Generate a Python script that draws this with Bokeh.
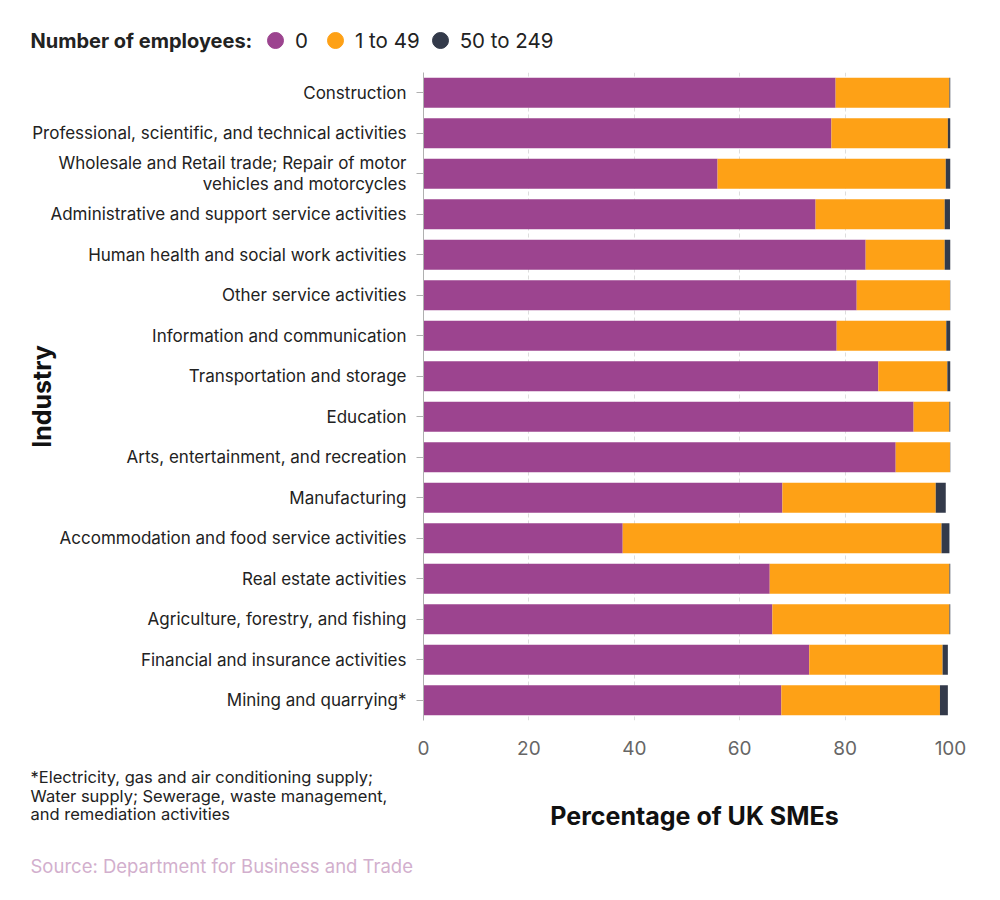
from bokeh.plotting import figure
from bokeh.layouts import column, row
from bokeh.models import ColumnDataSource, Range1d, FactorRange, Label, Legend, LegendItem
from bokeh.embed import file_html
from bokeh.resources import INLINE

industries = [
    "Construction",
    "Professional, scientific, and technical activities",
    "Wholesale and Retail trade; Repair of motor\nvehicles and motorcycles",
    "Administrative and support service activities",
    "Human health and social work activities",
    "Other service activities",
    "Information and communication",
    "Transportation and storage",
    "Education",
    "Arts, entertainment, and recreation",
    "Manufacturing",
    "Accommodation and food service activities",
    "Real estate activities",
    "Agriculture, forestry, and fishing",
    "Financial and insurance activities",
    "Mining and quarrying*",
]
emp_0 = [78.2, 77.4, 55.8, 74.4, 83.9, 82.2, 78.4, 86.3, 93.0, 89.6, 68.1, 37.8, 65.7, 66.2, 73.2, 67.9]
emp_1_49 = [21.6, 22.1, 43.3, 24.5, 15.0, 17.7, 20.8, 13.1, 6.8, 10.3, 29.1, 60.5, 34.1, 33.6, 25.3, 30.1]
emp_50_249 = [0.2, 0.5, 0.9, 1.0, 1.1, 0.1, 0.8, 0.6, 0.2, 0.1, 1.9, 1.5, 0.2, 0.2, 1.0, 1.5]
series_labels = ["0", "1 to 49", "50 to 249"]
colors = ["#9c448f", "#fea116", "#333a4a"]
x_ticks = [0, 20, 40, 60, 80, 100]
footnote_lines = [
    "*Electricity, gas and air conditioning supply;",
    "Water supply; Sewerage, waste management,",
    "and remediation activities",
]

FONT = "Inter"
W = 984


def blank(height):
    f = figure(width=W, height=height, x_axis_type=None, y_axis_type=None,
               x_range=Range1d(0, 1), y_range=Range1d(0, 1),
               output_backend="svg", toolbar_location=None, min_border=0)
    f.outline_line_color = None
    f.grid.visible = False
    return f


# ---- top: legend row ----
TH = 64
top = blank(TH)
dummy = [top.scatter(x=[-5], y=[-5], marker="circle", color=c, size=16) for c in colors]
legend = Legend(items=[LegendItem(label=lab, renderers=[d]) for lab, d in zip(series_labels, dummy)],
                orientation="horizontal", location=(255, TH - 60),
                glyph_width=40, glyph_height=40, label_standoff=0, spacing=0,
                padding=0, margin=0, border_line_color=None, background_fill_alpha=0,
                label_text_font=FONT, label_text_font_size="20.5px", label_text_color="#222222")
top.add_layout(legend)
top.add_layout(Label(x=30, y=TH - 40, x_units="screen", y_units="screen", text="Number of employees:",
                     text_font=FONT, text_font_size="20px", text_font_style="bold",
                     text_color="#222222", text_baseline="middle"))

# ---- main chart ----
source = ColumnDataSource(dict(industry=industries, a=emp_0, b=emp_1_49, c=emp_50_249))
p = figure(
    width=W, height=696,
    y_range=FactorRange(factors=list(reversed(industries))),
    x_range=Range1d(0, 100),
    output_backend="svg", toolbar_location=None,
    min_border_left=423, min_border_right=34, min_border_top=8, min_border_bottom=40,
)
p.outline_line_color = None
p.hbar_stack(["a", "b", "c"], y="industry", height=0.74, source=source,
             color=colors, line_color=None)

p.xaxis.ticker = x_ticks
p.xaxis.axis_line_color = None
p.xaxis.major_tick_line_color = None
p.xaxis.minor_tick_line_color = None
p.xaxis.major_label_text_font = FONT
p.xaxis.major_label_text_font_size = "19px"
p.xaxis.major_label_text_color = "#666666"
p.xaxis.major_label_standoff = 14

p.yaxis.axis_line_color = "#b0b0b0"
p.yaxis.major_tick_line_color = "#b0b0b0"
p.yaxis.major_tick_out = 7
p.yaxis.major_tick_in = 0
p.yaxis.major_label_text_font = FONT
p.yaxis.major_label_text_font_size = "17px"
p.yaxis.major_label_text_color = "#222222"
p.yaxis.major_label_text_line_height = 1.05
p.yaxis.major_label_standoff = 10
p.yaxis.axis_label = "Industry"
p.yaxis.axis_label_text_font = FONT
p.yaxis.axis_label_text_font_size = "25px"
p.yaxis.axis_label_text_font_style = "bold"
p.yaxis.axis_label_text_color = "#111111"
p.yaxis.axis_label_standoff = -28

p.xgrid.grid_line_color = "#dddddd"
p.xgrid.grid_line_dash = "4 3"
p.ygrid.grid_line_color = None

# ---- bottom: footnote, x title, source ----
BH = 124
bot = blank(BH)
for line, yy in zip(footnote_lines, [16, 35, 53]):
    bot.add_layout(Label(x=30, y=BH - yy, x_units="screen", y_units="screen", text=line,
                         text_font=FONT, text_font_size="16.5px", text_color="#222222",
                         text_baseline="middle"))
bot.add_layout(Label(x=694, y=BH - 55, x_units="screen", y_units="screen", text="Percentage of UK SMEs",
                     text_font=FONT, text_font_size="25px", text_font_style="bold",
                     text_color="#111111", text_align="center", text_baseline="middle"))
bot.add_layout(Label(x=30, y=BH - 105, x_units="screen", y_units="screen",
                     text="Source: Department for Business and Trade",
                     text_font=FONT, text_font_size="18.5px", text_color="#d2afcd",
                     text_baseline="middle"))

layout = column(row(top), p, row(bot), spacing=0)
open("out.html", "w").write(file_html(layout, INLINE))
